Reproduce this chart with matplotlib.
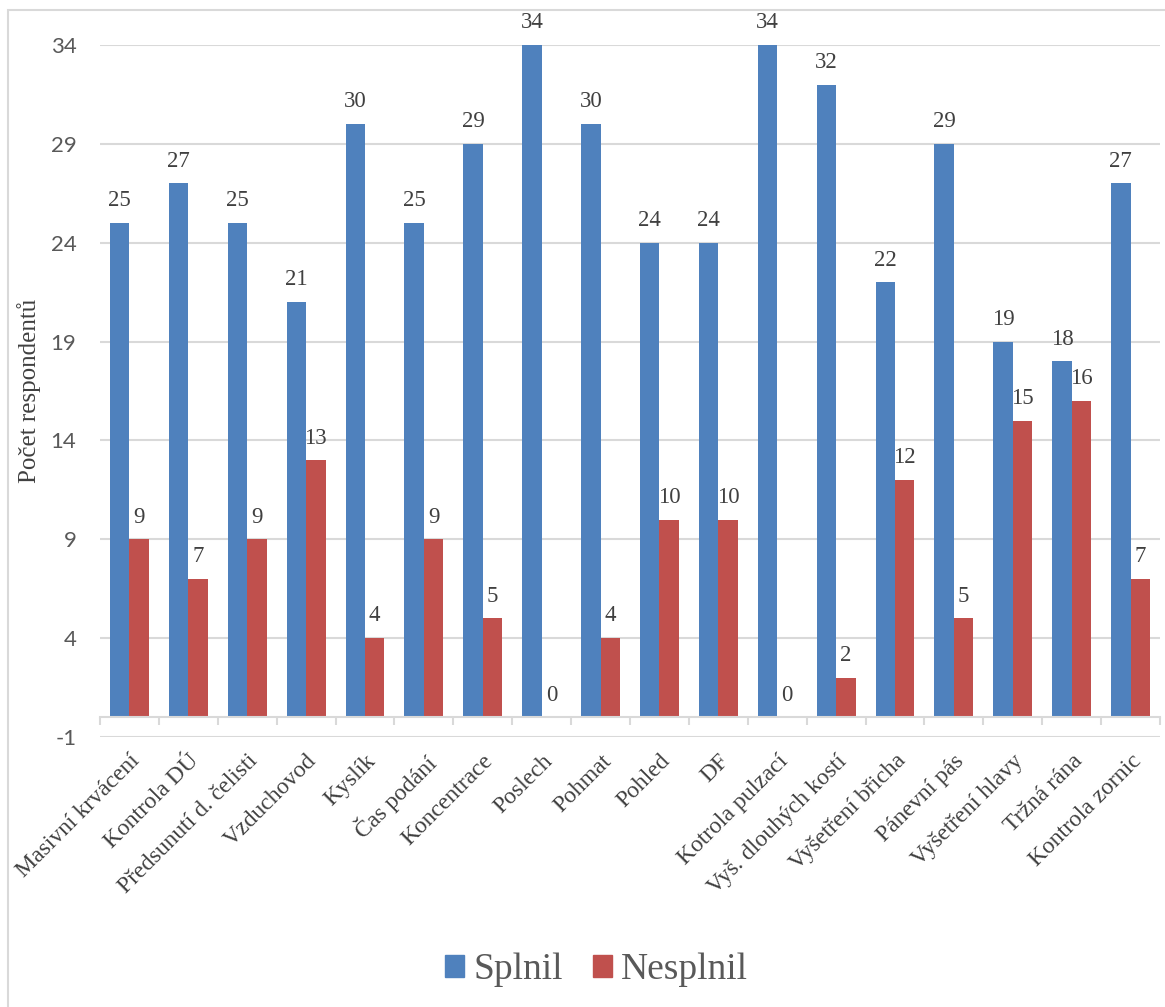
import matplotlib
matplotlib.use("Agg")
import matplotlib.pyplot as plt
import numpy as np
from matplotlib.patches import Rectangle, Patch

categories = ["Masivní krvácení", "Kontrola DÚ", "Předsunutí d. čelisti", "Vzduchovod",
              "Kyslík", "Čas podání", "Koncentrace", "Poslech", "Pohmat", "Pohled", "DF",
              "Kotrola pulzací", "Vyš. dlouhých kostí", "Vyšetření břicha", "Pánevní pás",
              "Vyšetření hlavy", "Tržná rána", "Kontrola zornic"]
splnil = [25, 27, 25, 21, 30, 25, 29, 34, 30, 24, 24, 34, 32, 22, 29, 19, 18, 27]
nesplnil = [9, 7, 9, 13, 4, 9, 5, 0, 4, 10, 10, 0, 2, 12, 5, 15, 16, 7]
series_names = ["Splnil", "Nesplnil"]
y_ticks = [-1, 4, 9, 14, 19, 24, 29, 34]

BLUE = "#4f81bd"
RED = "#c0504d"
GRID = "#d9d9d9"
SERIF = ["Liberation Serif", "DejaVu Serif"]
SANS = ["Lato", "DejaVu Sans"]

W, H = 1165, 1007
fig = plt.figure(figsize=(W / 100, H / 100), dpi=100)
left, right = 100 / W, 1160 / W
bottom, top = 1 - 737 / H, 1 - 45 / H
ax = fig.add_axes([left, bottom, right - left, top - bottom])

x = np.arange(len(categories))
bw = 0.33
ax.bar(x - bw / 2, splnil, bw, color=BLUE, zorder=3)
ax.bar(x + bw / 2, nesplnil, bw, color=RED, zorder=3)

for xi, v in zip(x - bw / 2, splnil):
    ax.annotate(str(v), (xi, v), xytext=(0, 12), textcoords="offset points",
                ha="center", va="baseline", fontsize=16.5, family=SERIF,
                color="#404040", annotation_clip=False)
for xi, v in zip(x + bw / 2, nesplnil):
    ax.annotate(str(v), (xi, v), xytext=(0, 12), textcoords="offset points",
                ha="center", va="baseline", fontsize=16.5, family=SERIF,
                color="#404040", annotation_clip=False)

ax.set_xlim(-0.5, len(categories) - 0.5)
ax.set_ylim(-1, 34)
ax.set_yticks(y_ticks)
ax.set_yticklabels([str(t) for t in y_ticks], fontsize=16, family=SANS, color="#595959")
ax.tick_params(axis="y", length=0, pad=17)
ax.grid(axis="y", color=GRID, lw=1.5, zorder=0)
for s in ["top", "right", "left"]:
    ax.spines[s].set_visible(False)
ax.spines["bottom"].set_position(("data", 0))
ax.spines["bottom"].set_color(GRID)
ax.spines["bottom"].set_linewidth(1.5)
ax.spines["bottom"].set_zorder(4)

ax.set_xticks(x)
ax.set_xticklabels(categories, rotation=45, ha="right", rotation_mode="anchor",
                   fontsize=17, family=SERIF, color="#404040")
ax.tick_params(axis="x", which="major", length=0, pad=24)
ax.set_xticks(np.arange(len(categories) + 1) - 0.5, minor=True)
ax.tick_params(axis="x", which="minor", length=6, width=1.5, color=GRID, direction="out")

ax.set_ylabel("Počet respondentů", fontsize=18, family=SERIF, color="#404040", labelpad=7)

handles = [Patch(color=BLUE), Patch(color=RED)]
fig.legend(handles, series_names, loc="center", bbox_to_anchor=(0.5 + 14 / W, 1 - 970 / H),
           ncol=2, frameon=False, prop={"family": SERIF, "size": 27},
           labelcolor="#595959", handlelength=0.5, handleheight=0.5,
           handletextpad=0.25, columnspacing=0.8)

fig.patches.append(Rectangle((8 / W, -0.1), 1.2, 1.1 - 10 / H, transform=fig.transFigure,
                             fill=False, edgecolor=GRID, lw=1.5))

fig.savefig("out.png", dpi=100, facecolor="white")
